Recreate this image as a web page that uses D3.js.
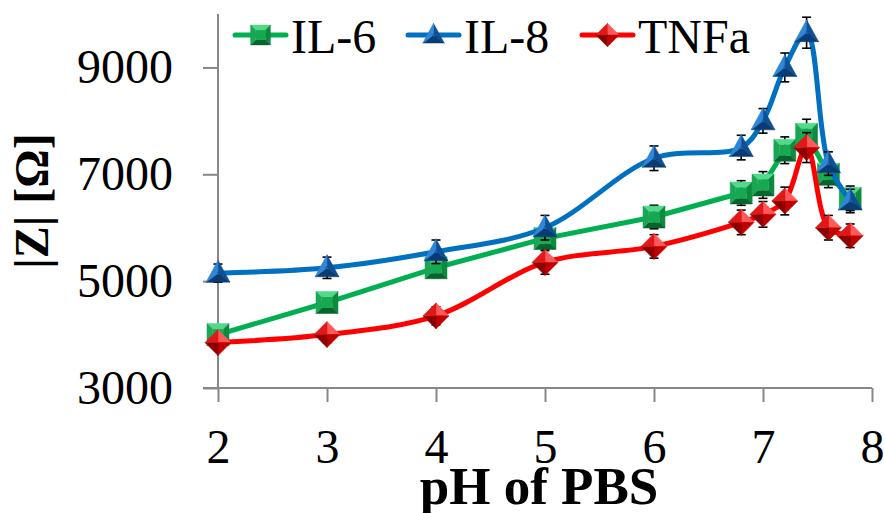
<!DOCTYPE html>
<html>
<head>
<meta charset="utf-8">
<script src="https://cdn.jsdelivr.net/npm/d3@7"></script>
</head>
<body style="margin:0">
<svg id="chart" width="884" height="513"></svg>
<script>
// pH values measured
var phValues = [2, 3, 4, 5, 6, 6.8, 7, 7.2, 7.4, 7.6, 7.8];

// |Z| in ohm
var il6Values  = [4000, 4600, 5250, 5800, 6200, 6650, 6800, 7450, 7750, 7000, 6550];
var il8Values  = [5150, 5250, 5550, 6000, 7300, 7500, 8000, 9000, 9650, 7200, 6500];
var tnfaValues = [3850, 4000, 4350, 5350, 5650, 6100, 6250, 6500, 7500, 6000, 5850];

// error bar half-heights
var il6Errors  = [150, 150, 180, 200, 220, 230, 250, 250, 280, 250, 230];
var il8Errors  = [170, 200, 220, 230, 230, 230, 230, 270, 290, 220, 220];
var tnfaErrors = [130, 150, 170, 220, 220, 230, 240, 260, 280, 230, 220];

var seriesNames = ['IL-6', 'IL-8', 'TNFa'];
var xTicks = [2, 3, 4, 5, 6, 7, 8];
var yTicks = [3000, 5000, 7000, 9000];

var svg = d3.select('#chart');
var axisColor = '#878787';
var serif = 'Liberation Serif';

var x = d3.scaleLinear().domain([2, 8]).range([218, 872]);
var y = d3.scaleLinear().domain([3000, 10000]).range([388, 14]);

// axes
var yAxis = svg.append('g')
    .attr('transform', 'translate(' + x(2) + ',0)')
    .call(d3.axisLeft(y).tickValues(yTicks).tickSize(15).tickPadding(30)
        .tickSizeOuter(0).tickFormat(d3.format('d')));
yAxis.attr('font-family', null).attr('font-size', null);
yAxis.select('.domain').remove();
yAxis.selectAll('line').attr('stroke', axisColor).attr('stroke-width', 2);
yAxis.selectAll('text')
    .attr('fill', '#000')
    .style('font-family', serif)
    .style('font-size', '48px');

var xAxis = svg.append('g')
    .attr('transform', 'translate(0,' + y(3000) + ')')
    .call(d3.axisBottom(x).tickValues(xTicks).tickSize(14).tickPadding(27)
        .tickSizeOuter(0).tickFormat(d3.format('d')));
xAxis.attr('font-family', null).attr('font-size', null);
xAxis.select('.domain').remove();
xAxis.selectAll('line').attr('stroke', axisColor).attr('stroke-width', 2);
xAxis.selectAll('text')
    .attr('fill', '#000')
    .style('font-family', serif)
    .style('font-size', '48px');

svg.append('line')
    .attr('x1', x(2)).attr('x2', x(2))
    .attr('y1', y(3000)).attr('y2', y(10000))
    .attr('stroke', axisColor).attr('stroke-width', 2);
svg.append('line')
    .attr('x1', x(2) - 15).attr('x2', x(8))
    .attr('y1', y(3000)).attr('y2', y(3000))
    .attr('stroke', axisColor).attr('stroke-width', 2);

// axis titles
svg.append('text')
    .attr('x', 539).attr('y', 504)
    .attr('text-anchor', 'middle')
    .style('font-family', serif)
    .style('font-size', '53px').style('font-weight', 'bold')
    .text('pH of PBS');

svg.append('text')
    .attr('transform', 'translate(48,201) rotate(-90)')
    .attr('text-anchor', 'middle')
    .style('font-family', serif)
    .style('font-size', '48px').style('font-weight', 'bold')
    .text('|Z| [\u03A9]');

// marker shapes: outline vertices, bevel inner scale, face shades
function facetMarker(g, verts, k, shades, innerShade) {
    var inner = verts.map(function(v) { return [v[0] * k, v[1] * k]; });
    verts.forEach(function(v, i) {
        var j = (i + 1) % verts.length;
        g.append('path')
            .attr('d', 'M' + [v, verts[j], inner[j], inner[i]].join('L') + 'Z')
            .attr('fill', shades[i])
            .attr('stroke', shades[i]).attr('stroke-width', 0.5);
    });
    if (k > 0) {
        g.append('path')
            .attr('d', 'M' + inner.join('L') + 'Z')
            .attr('fill', innerShade);
    }
}

var markers = {
    square: function(g) {
        facetMarker(g, [[-11, -11], [11, -11], [11, 11], [-11, 11]], 0.5,
            ['#52d98c', '#0d8a40', '#06652d', '#1aa654'], '#17a852');
    },
    triangle: function(g) {
        facetMarker(g, [[0, -13], [12, 9], [-12, 9]], 0.15,
            ['#0f4f93', '#0a3c73', '#2f86d6'], '#1c66b3');
    },
    diamond: function(g) {
        facetMarker(g, [[0, -13], [13, 0], [0, 13], [-13, 0]], 0.0,
            ['#ff5a5a', '#c00000', '#8c0000', '#e01818'], '#e00000');
    }
};

var series = [
    { name: seriesNames[0], values: il6Values, errors: il6Errors, color: '#00b050',
      marker: 'square', curve: d3.curveLinear },
    { name: seriesNames[1], values: il8Values, errors: il8Errors, color: '#0070c0',
      marker: 'triangle', curve: d3.curveCatmullRom.alpha(0.5) },
    { name: seriesNames[2], values: tnfaValues, errors: tnfaErrors, color: '#ff0000',
      marker: 'diamond', curve: d3.curveCatmullRom.alpha(0.5) }
];

series.forEach(function(s) {
    var pts = phValues.map(function(p, i) {
        return { x: p, y: s.values[i], e: s.errors[i] };
    });
    var g = svg.append('g');

    var line = d3.line()
        .x(function(d) { return x(d.x); })
        .y(function(d) { return y(d.y); })
        .curve(s.curve);

    g.append('path')
        .datum(pts)
        .attr('d', line)
        .attr('fill', 'none')
        .attr('stroke', s.color)
        .attr('stroke-width', 5)
        .attr('stroke-linejoin', 'round');

    // error bars
    var eb = g.selectAll('.err').data(pts).enter().append('g')
        .attr('stroke', '#000').attr('stroke-width', 1.6);
    eb.append('line')
        .attr('x1', function(d) { return x(d.x); })
        .attr('x2', function(d) { return x(d.x); })
        .attr('y1', function(d) { return y(d.y - d.e); })
        .attr('y2', function(d) { return y(d.y + d.e); });
    eb.append('line')
        .attr('x1', function(d) { return x(d.x) - 4.5; })
        .attr('x2', function(d) { return x(d.x) + 4.5; })
        .attr('y1', function(d) { return y(d.y + d.e); })
        .attr('y2', function(d) { return y(d.y + d.e); });
    eb.append('line')
        .attr('x1', function(d) { return x(d.x) - 4.5; })
        .attr('x2', function(d) { return x(d.x) + 4.5; })
        .attr('y1', function(d) { return y(d.y - d.e); })
        .attr('y2', function(d) { return y(d.y - d.e); });

    g.selectAll('.mk').data(pts).enter().append('g')
        .attr('transform', function(d) {
            return 'translate(' + x(d.x) + ',' + y(d.y) + ')';
        })
        .each(function() { markers[s.marker](d3.select(this)); });
});

// legend
var legendX = [235, 408, 582];
series.forEach(function(s, i) {
    var lg = svg.append('g').attr('transform', 'translate(' + legendX[i] + ',35)');
    lg.append('line')
        .attr('x1', 0).attr('x2', 51)
        .attr('stroke', s.color).attr('stroke-width', 5)
        .attr('stroke-linecap', 'round');
    var m = lg.append('g').attr('transform', 'translate(25.5,0) scale(0.9)');
    markers[s.marker](m);
    lg.append('text')
        .attr('x', 56).attr('y', 18)
        .style('font-family', serif)
        .style('font-size', '48px')
        .text(s.name);
});
</script>
</body>
</html>
